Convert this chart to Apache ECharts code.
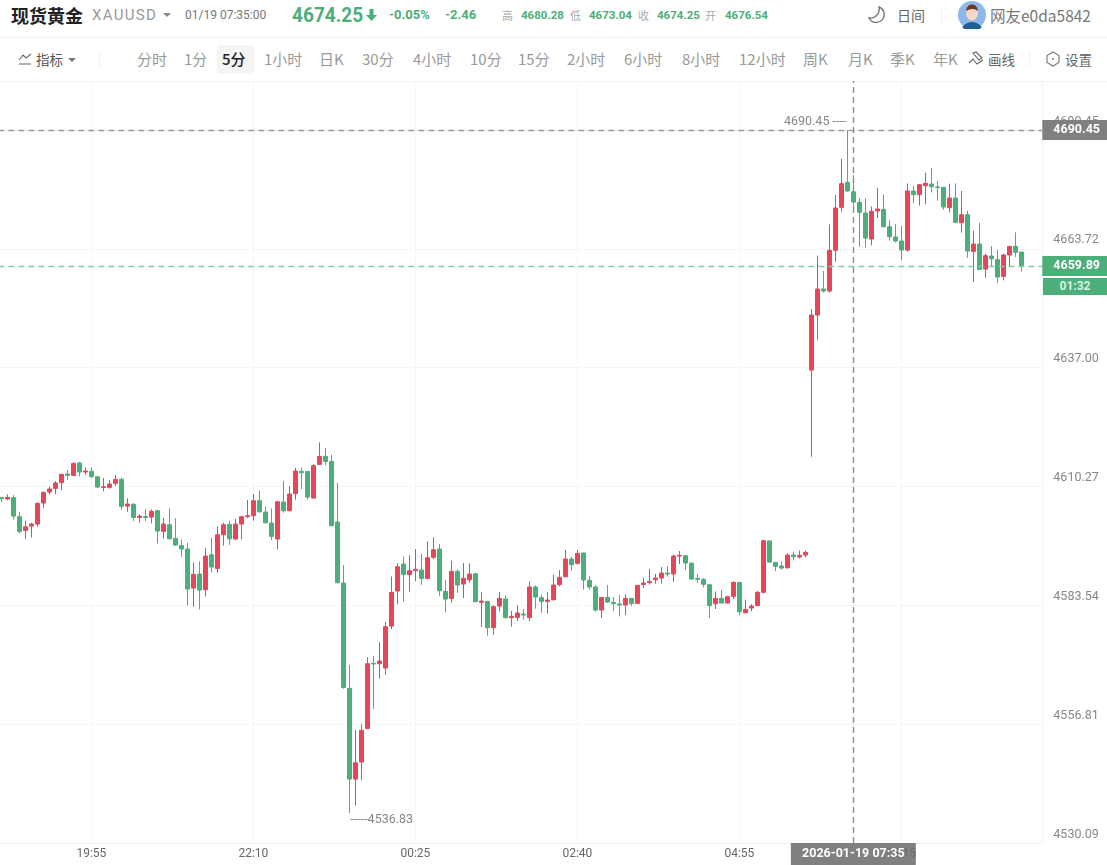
<!DOCTYPE html>
<html lang="zh">
<head>
<meta charset="utf-8">
<title>现货黄金 XAUUSD</title>
<script src="https://cdn.jsdelivr.net/npm/echarts@6/dist/echarts.min.js"></script>
<style>
html, body { margin: 0; padding: 0; background: #fff; overflow: hidden; }
body { width: 1107px; height: 865px; position: relative; font-family: "Noto Sans CJK SC", Roboto, sans-serif; }
#chart { position: absolute; left: 0; top: 81px; width: 1107px; height: 784px; }
.t { position: absolute; white-space: nowrap; line-height: 20px; }
.top { top: 5px; }
.bar { top: 49px; font-size: 15px; color: #9a9a9a; }
.num { font-family: Roboto, sans-serif; font-weight: 700; font-size: 11.5px; color: #4cae78; }
.lab { font-size: 11px; color: #aaa; }
.rule { position: absolute; left: 0; width: 1107px; height: 1px; background: #f1f1f1; }
.caret { position: absolute; width: 0; height: 0; border-left: 4px solid transparent; border-right: 4px solid transparent; border-top: 4px solid #888; }
.sep { position: absolute; width: 1px; background: #f0f0f0; }
svg { position: absolute; }
#timer { position: absolute; left: 1043px; top: 278px; width: 64px; height: 17px; background: #4cae78; color: #d8f0e3; text-align: center; font: 700 12px/17px Roboto, sans-serif; }
</style>
</head>
<body>
<!-- 顶部行情栏 -->
<span class="t top" style="left:11px;font-size:18px;font-weight:700;color:#222">现货黄金</span>
<span class="t top" style="left:92px;font-family:Roboto;font-size:15px;letter-spacing:1.3px;color:#999">XAUUSD</span>
<i class="caret" style="left:163px;top:13px"></i>
<span class="t top" style="left:185px;font-family:Roboto;font-size:12px;color:#777">01/19 07:35:00</span>
<span class="t top" style="left:292px;font-family:Roboto;font-weight:700;font-size:20.5px;color:#4cae78;transform:scaleX(.93);transform-origin:left">4674.25</span>
<svg style="left:366px;top:9px" width="11" height="12" viewBox="0 0 11 12"><path d="M3.5 0 H7.5 V6 H11 L5.5 12 L0 6 H3.5 Z" fill="#4cae78"/></svg>
<span class="t top num" style="left:389px;font-size:13px">-0.05%</span>
<span class="t top num" style="left:445px;font-size:13px">-2.46</span>
<span class="t top lab" style="left:502px">高</span><span class="t top num" style="left:521px">4680.28</span>
<span class="t top lab" style="left:570px">低</span><span class="t top num" style="left:589px">4673.04</span>
<span class="t top lab" style="left:638px">收</span><span class="t top num" style="left:657px">4674.25</span>
<span class="t top lab" style="left:705px">开</span><span class="t top num" style="left:725px">4676.54</span>
<svg style="left:867px;top:5px" width="20" height="20" viewBox="0 0 20 20"><path d="M12 2 A8 8 0 1 1 2 13 A9 9 0 0 0 12 2 Z" fill="none" stroke="#777" stroke-width="1.4"/></svg>
<span class="t top" style="left:897px;font-size:14px;color:#666">日间</span>
<i class="sep" style="left:941px;top:8px;height:15px"></i>
<svg style="left:958px;top:1px" width="28" height="28" viewBox="0 0 28 28"><circle cx="14" cy="14" r="14" fill="#8db8ea"/><path d="M4 26 Q14 16 24 26 A14 14 0 0 1 4 26 Z" fill="#1f5f96"/><ellipse cx="14" cy="12" rx="6" ry="7.5" fill="#f4d9c6"/><path d="M8 10 Q9 3 14 3.5 Q19 3 20 10 Q15 6 8 10 Z" fill="#6b3a20"/></svg>
<span class="t top" style="left:990px;font-size:15.5px;color:#777">网友e0da5842</span>
<div class="rule" style="top:37px"></div>

<!-- 周期工具栏 -->
<svg style="left:18px;top:52px" width="14" height="14" viewBox="0 0 14 14"><path d="M1 8 L5 3 L8 6 L13 2 M1 12 H13" fill="none" stroke="#666" stroke-width="1.1"/></svg>
<span class="t" style="left:36px;top:49px;font-size:13.5px;color:#555">指标</span>
<i class="caret" style="left:68px;top:58px;border-top-color:#777"></i>
<i class="sep" style="left:99px;top:52px;height:15px"></i>
<div style="position:absolute;left:217px;top:45px;width:37px;height:29px;background:#f5f5f5;border-radius:2px"></div>
<span class="t bar" style="left:137px">分时</span>
<span class="t bar" style="left:184px">1分</span>
<span class="t bar" style="left:222px;color:#222;font-weight:500">5分</span>
<span class="t bar" style="left:264px">1小时</span>
<span class="t bar" style="left:319px">日K</span>
<span class="t bar" style="left:362px">30分</span>
<span class="t bar" style="left:413px">4小时</span>
<span class="t bar" style="left:470px">10分</span>
<span class="t bar" style="left:518px">15分</span>
<span class="t bar" style="left:567px">2小时</span>
<span class="t bar" style="left:624px">6小时</span>
<span class="t bar" style="left:682px">8小时</span>
<span class="t bar" style="left:739px">12小时</span>
<span class="t bar" style="left:803px">周K</span>
<span class="t bar" style="left:848px">月K</span>
<span class="t bar" style="left:890px">季K</span>
<span class="t bar" style="left:933px">年K</span>
<svg style="left:968px;top:51px" width="17" height="17" viewBox="0 0 17 17"><path d="M1 12 L5 8 L9 13 L15 9 M5 2 L8 1 L14 7 L11 9 Z" fill="none" stroke="#666" stroke-width="1.1"/></svg>
<span class="t" style="left:988px;top:49px;font-size:13.5px;color:#666">画线</span>
<i class="sep" style="left:1029px;top:52px;height:15px"></i>
<svg style="left:1045px;top:51px" width="16" height="16" viewBox="0 0 16 16"><path d="M8 1 L14 4.5 V11.5 L8 15 L2 11.5 V4.5 Z" fill="none" stroke="#777" stroke-width="1.1"/><circle cx="8" cy="8" r="1" fill="#777"/></svg>
<span class="t" style="left:1065px;top:49px;font-size:13.5px;color:#666">设置</span>
<div class="rule" style="top:81px"></div>

<div id="chart"></div>
<div id="timer">01:32</div>

<script>
// 5分钟K线
const opens = [4607.82,4607.45,4607.75,4603.47,4600.40,4601.37,4601.82,4606.55,4609.02,4609.85,
4611.12,4613.07,4612.77,4615.55,4613.52,4613.67,4612.47,4610.07,4610.07,4610.97,
4611.87,4605.87,4606.25,4603.32,4603.55,4603.40,4604.82,4600.17,4601.67,4598.60,
4597.02,4596.20,4587.42,4590.57,4587.05,4594.92,4591.85,4599.42,4601.75,4598.45,
4601.82,4603.47,4603.70,4607.07,4604.52,4602.05,4598.45,4606.77,4604.82,4608.65,
4613.67,4613.67,4607.67,4615.25,4617.05,4615.92,4602.27,4588.55,4564.87,4544.46,
4548.29,4555.86,4570.49,4570.41,4569.44,4578.88,4586.76,4592.83,4590.43,4591.33,
4591.48,4589.60,4594.33,4596.20,4586.68,4585.10,4591.18,4588.33,4589.30,4590.65,
4584.21,4584.43,4578.51,4583.38,4584.95,4580.76,4580.83,4581.58,4580.76,4587.66,
4585.26,4584.43,4584.81,4588.18,4589.98,4593.95,4592.98,4595.31,4589.16,4587.66,
4582.48,4585.33,4584.21,4583.83,4583.61,4585.10,4583.98,4588.18,4588.63,4589.30,
4589.68,4590.80,4590.58,4594.63,4594.71,4593.05,4589.60,4589.38,4588.18,4583.91,
4585.10,4584.06,4585.56,4588.71,4581.88,4582.93,4583.46,4586.46,4598.01,4593.21,
4592.38,4592.00,4594.85,4594.41,4594.85,4636.45,4648.83,4654.68,4654.23,4663.38,
4673.05,4678.68,4676.54,4674.18,4671.78,4665.93,4672.23,4672.60,4668.70,4666.38,
4665.48,4663.45,4676.73,4675.90,4677.93,4678.30,4677.63,4677.55,4672.98,4675.15,
4669.60,4671.40,4663.15,4664.80,4659.18,4662.10,4661.28,4657.53,4662.33,4664.28,
4663.00];
const closes = [4607.52,4607.82,4603.62,4600.17,4601.22,4601.82,4606.47,4608.95,4609.70,4611.05,
4613.00,4612.77,4615.47,4613.52,4613.75,4612.47,4610.15,4610.22,4610.82,4611.87,
4605.80,4606.32,4603.32,4603.62,4603.32,4604.67,4600.25,4601.82,4598.52,4597.10,
4596.20,4587.20,4590.50,4586.97,4594.62,4592.15,4599.42,4601.67,4598.52,4601.82,
4603.47,4603.70,4607.07,4604.60,4602.12,4599.05,4606.85,4604.82,4608.57,4613.75,
4613.37,4607.90,4614.95,4617.05,4615.92,4601.45,4588.62,4565.09,4544.46,4548.14,
4555.41,4570.41,4570.34,4571.01,4578.74,4586.46,4592.23,4590.50,4591.33,4591.63,
4589.60,4594.25,4596.05,4586.83,4584.95,4591.18,4588.10,4589.60,4590.58,4584.36,
4584.50,4578.51,4583.23,4585.10,4580.76,4581.06,4581.81,4581.36,4587.66,4585.41,
4584.43,4584.73,4588.10,4589.83,4593.95,4592.68,4595.23,4589.23,4587.66,4582.48,
4585.33,4584.28,4583.91,4583.61,4585.10,4583.98,4588.03,4588.56,4588.93,4589.68,
4590.80,4590.58,4594.63,4594.78,4593.05,4589.45,4589.38,4588.26,4583.46,4585.10,
4584.06,4585.48,4588.71,4582.11,4582.63,4583.38,4586.46,4598.08,4593.28,4592.31,
4591.93,4594.85,4594.48,4594.78,4595.46,4648.83,4654.68,4654.23,4663.38,4672.90,
4678.38,4676.73,4674.25,4671.93,4666.15,4672.15,4672.68,4668.70,4666.45,4665.48,
4663.45,4676.73,4675.90,4678.15,4678.45,4677.70,4677.48,4673.13,4675.15,4669.68,
4671.40,4663.23,4664.80,4659.10,4662.18,4661.50,4657.38,4662.33,4664.28,4662.93,
4659.89];
const lows = [4606.77,4607.22,4602.80,4599.72,4598.52,4598.82,4601.22,4605.42,4608.50,4608.57,
4609.47,4611.72,4612.62,4612.55,4612.85,4612.25,4609.92,4609.17,4609.77,4610.45,
4605.05,4604.60,4602.50,4602.12,4602.50,4601.97,4597.47,4598.52,4598.37,4596.87,
4594.47,4583.45,4583.22,4582.62,4585.55,4590.95,4590.87,4596.95,4597.10,4598.30,
4598.37,4603.25,4602.57,4604.37,4601.90,4598.22,4596.12,4604.37,4604.67,4607.30,
4609.70,4607.30,4607.52,4615.10,4615.02,4601.37,4588.55,4564.79,4536.83,4538.54,
4544.24,4555.71,4560.21,4567.04,4567.94,4578.21,4583.83,4584.36,4586.61,4589.00,
4588.18,4589.45,4593.95,4585.70,4581.95,4584.13,4586.38,4585.18,4588.63,4584.28,
4578.66,4576.71,4576.93,4582.18,4580.61,4578.73,4580.01,4580.31,4580.01,4582.78,
4581.88,4581.73,4584.58,4587.81,4589.90,4591.33,4592.68,4587.06,4587.06,4582.11,
4580.68,4584.13,4582.26,4581.06,4581.36,4583.38,4583.91,4587.43,4588.18,4588.41,
4588.41,4589.98,4588.78,4592.83,4591.48,4589.30,4588.63,4587.58,4580.68,4582.71,
4584.00,4583.91,4584.95,4581.36,4581.80,4582.26,4583.38,4586.23,4593.05,4591.26,
4591.63,4591.78,4593.65,4594.10,4594.33,4616.95,4643.28,4653.93,4653.85,4660.83,
4672.08,4676.58,4673.04,4664.20,4663.98,4664.50,4670.65,4668.55,4665.55,4665.18,
4661.13,4663.08,4673.95,4673.43,4673.80,4676.43,4674.55,4672.53,4671.93,4669.45,
4667.35,4661.73,4656.33,4658.95,4657.23,4659.85,4656.03,4656.63,4659.85,4661.88,
4658.58];
const highs = [4607.90,4608.50,4608.35,4604.52,4602.57,4602.12,4606.70,4609.10,4610.30,4611.50,
4613.15,4613.97,4615.70,4615.85,4614.57,4614.57,4612.62,4612.17,4611.72,4612.85,
4612.32,4607.60,4606.55,4604.00,4605.20,4605.12,4604.97,4603.25,4605.35,4603.17,
4598.37,4597.62,4593.20,4593.42,4596.42,4598.75,4601.30,4602.12,4602.50,4602.95,
4603.62,4607.22,4608.57,4609.32,4605.80,4605.35,4606.92,4611.50,4610.37,4614.42,
4614.57,4613.75,4615.32,4620.20,4618.97,4617.42,4611.05,4592.60,4570.12,4555.49,
4556.76,4571.84,4572.14,4575.29,4579.79,4590.05,4592.98,4594.55,4594.78,4596.20,
4595.15,4597.93,4598.83,4597.33,4589.23,4593.58,4591.63,4593.05,4592.98,4590.80,
4586.53,4584.50,4583.53,4586.53,4585.78,4582.26,4583.53,4582.71,4588.93,4588.03,
4585.93,4586.53,4590.43,4591.48,4595.98,4594.48,4595.98,4595.38,4590.05,4588.10,
4585.41,4588.10,4585.41,4585.86,4586.01,4585.18,4588.10,4589.75,4591.71,4590.58,
4592.16,4592.38,4595.00,4595.76,4594.85,4593.10,4590.65,4589.68,4588.33,4586.68,
4586.98,4585.70,4588.93,4588.78,4584.81,4583.83,4586.76,4598.31,4598.16,4593.28,
4593.43,4595.23,4595.60,4595.83,4595.90,4650.18,4662.18,4658.73,4669.23,4675.83,
4684.00,4690.45,4680.28,4675.08,4675.08,4673.28,4677.40,4675.90,4670.13,4669.30,
4668.85,4678.45,4677.93,4678.30,4680.85,4681.90,4678.98,4677.60,4678.38,4678.45,
4676.73,4672.30,4667.80,4669.60,4662.63,4664.35,4663.45,4662.63,4664.30,4667.43,
4663.05];

const yTicks = [4530.09, 4556.81, 4583.54, 4610.27, 4637.00, 4663.72, 4690.45];
const xTickIdx = [15, 42, 69, 96, 123, 150];
const highPrice = 4690.45, lowPrice = 4536.83, lastPrice = 4659.89;
const crossIdx = 142, highIdx = 141, lowIdx = 58;
const crossLabel = '2026-01-19 07:35';

// 时间轴: 18:40 开始, 05:50 之后休市, 07:00 重新开始
function fmtTime(m) {
    const h = Math.floor(m / 60) % 24, mm = m % 60;
    return String(h).padStart(2, '0') + ':' + String(mm).padStart(2, '0');
}
const categories = [];
for (let i = 0; i < 174; i++) {
    categories.push(fmtTime(i <= 134 ? 18 * 60 + 40 + i * 5 : 7 * 60 + (i - 135) * 5));
}

const candleData = opens.map((o, i) => [o, closes[i], lows[i], highs[i]]);
const UP = '#e5475a', DOWN = '#4cae78';

const tagLabel = (text, bg) => ({
    position: 'end', distance: 0, formatter: text, align: 'left', padding: [3, 8, 3, 11], lineHeight: 14,
    backgroundColor: bg, color: '#fff', fontFamily: 'Roboto', fontWeight: 700, fontSize: 12.5
});

const myChart = echarts.init(document.getElementById('chart'));
myChart.setOption({
    animation: false,
    grid: { left: -1.67, width: 1044, top: 0, bottom: 22, outerBoundsMode: 'none' },
    xAxis: {
        type: 'category',
        data: categories,
        boundaryGap: true,
        axisLine: { lineStyle: { color: '#f0f0f0' } },
        axisTick: { show: false },
        axisLabel: {
            color: '#666', fontFamily: 'Roboto', fontSize: 12, margin: 5,
            interval: idx => xTickIdx.includes(idx)
        },
        splitLine: {
            show: true, alignWithLabel: true,
            interval: idx => xTickIdx.includes(idx),
            lineStyle: { color: '#f5f5f5' }
        }
    },
    yAxis: {
        type: 'value',
        position: 'right',
        min: 4530.09,
        max: 4701.47,
        axisLine: { show: true, lineStyle: { color: '#f3f3f3' } },
        axisTick: { show: false, customValues: yTicks },
        axisLabel: {
            customValues: yTicks,
            color: '#888', fontFamily: 'Roboto', fontSize: 12.5, margin: 11,
            verticalAlign: 'bottom', padding: [0, 0, 2, 0],
            formatter: v => v.toFixed(2)
        },
        splitLine: { show: true, lineStyle: { color: '#f5f5f5' } }
    },
    series: [{
        type: 'candlestick',
        data: candleData,
        barWidth: 5,
        itemStyle: { color: UP, color0: DOWN, borderColor: UP, borderColor0: DOWN, borderWidth: 1 },
        markLine: {
            silent: true,
            symbol: 'none',
            data: [
                {
                    yAxis: highPrice,
                    lineStyle: { color: '#9a9a9a', type: [6, 4], width: 1.4 },
                    label: tagLabel(highPrice.toFixed(2), '#808080')
                },
                {
                    yAxis: lastPrice,
                    lineStyle: { color: '#86cba6', type: [6, 4], width: 1.4 },
                    label: tagLabel(lastPrice.toFixed(2), DOWN)
                },
                {
                    xAxis: categories[crossIdx],
                    lineStyle: { color: '#8c8c8c', type: [6, 4], width: 1.4 },
                    label: { position: 'start', distance: 0, formatter: crossLabel, width: 125, height: 22, lineHeight: 22, align: 'center', backgroundColor: 'rgba(110,110,110,.88)', color: '#fff', fontFamily: 'Roboto', fontWeight: 700, fontSize: 12.5 }
                }
            ]
        },
        markPoint: {
            silent: true,
            symbol: 'circle',
            symbolSize: 0,
            data: [
                {
                    coord: [categories[highIdx], highPrice],
                    label: { show: true, position: 'left', distance: 1, offset: [0, -8], formatter: highPrice.toFixed(2) + ' ----', color: '#888', fontFamily: 'Roboto', fontSize: 12.5 }
                },
                {
                    coord: [categories[lowIdx], lowPrice],
                    label: { show: true, position: 'right', distance: 1, offset: [0, 7], formatter: '-----' + lowPrice.toFixed(2), color: '#888', fontFamily: 'Roboto', fontSize: 12.5 }
                }
            ]
        }
    }]
});
</script>
</body>
</html>
